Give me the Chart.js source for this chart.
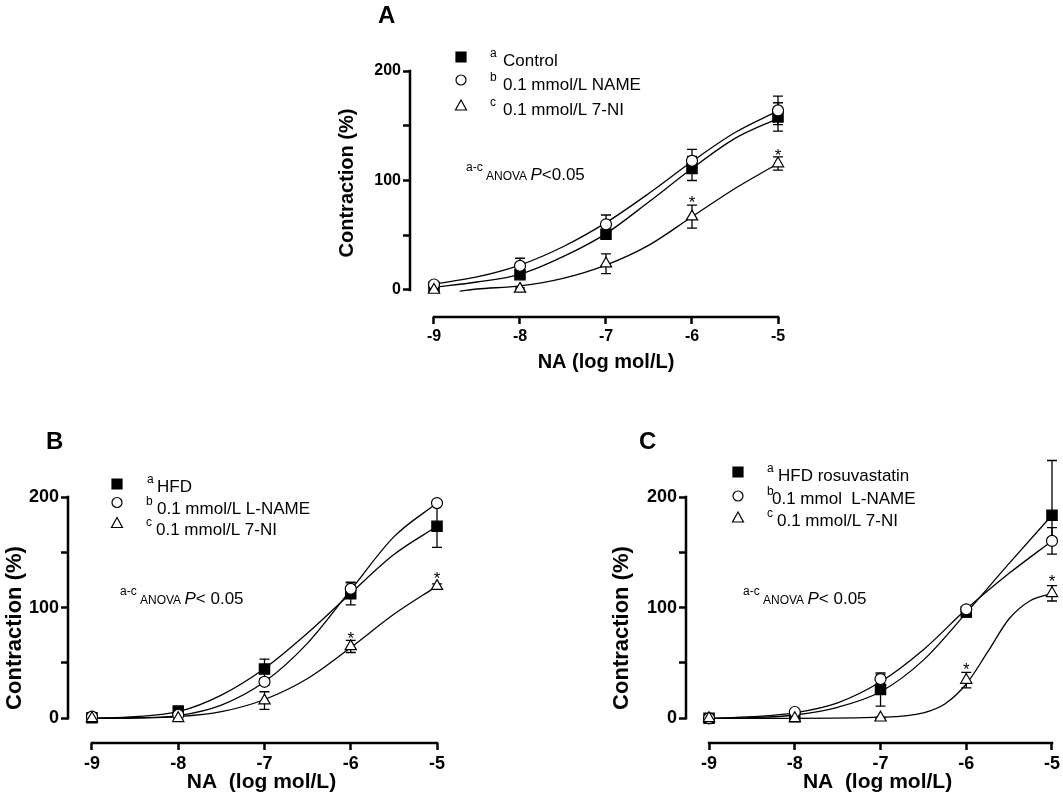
<!DOCTYPE html>
<html>
<head>
<meta charset="utf-8">
<script src="https://cdn.jsdelivr.net/npm/chart.js"></script>
<style>
  body { margin: 0; background: #fff; }
  #wrap { position: relative; width: 1063px; height: 801px; }
  canvas { position: absolute; }
</style>
</head>
<body>
<div id="wrap">
  <canvas id="chartA" width="470" height="380" style="left:330px; top:0px;"></canvas>
  <canvas id="chartB" width="470" height="380" style="left:0px; top:420px;"></canvas>
  <canvas id="chartC" width="463" height="380" style="left:600px; top:420px;"></canvas>
</div>
<script>
// doses (log mol/L) and tick labels
const doses = [-9, -8, -7, -6, -5];
const fitDoses = [-9, -8.5, -8, -7.5, -7, -6.5, -6, -5.5, -5];
const xTickValues = [-9, -8, -7, -6, -5];
const xTickLabels = ['-9', '-8', '-7', '-6', '-5'];
const yTickValues = [0, 50, 100, 150, 200];
const yTickLabels = ['0', '', '100', '', '200'];
const starDoses = [-6, -5];

// A - control
const aControl = [2.5, 14, 51, 111, 158];
const aControlSem = [1, 3, 4, 11, 13];
const aName = [5, 22, 60, 118, 164];
const aNameSem = [1.5, 7, 8.5, 10.5, 13];
const aNi = [0, 1, 24, 67, 115.5];
const aNiSem = [1, 1, 9, 10.5, 6];
const aControlFit = [2.4, 7.3, 14.3, 30.4, 51.5, 80.6, 111, 138.5, 156.8];
const aNameFit = [5.4, 12, 22.8, 39.5, 61.5, 88.3, 117.3, 143.8, 163.6];
const aNiFitDoses = [-8.7, -8.5, -8, -7.5, -7, -6.5, -6, -5.5, -5];
const aNiFit = [-1, 0.9, 3.7, 10.7, 22.8, 41, 66.9, 92.7, 115.5];
const aStars = [84, 127];

// B - HFD
const bHfd = [0.5, 6.5, 44.5, 112.5, 173.5];
const bHfdSem = [0.5, 1.5, 9, 10, 19];
const bLname = [1.5, 3, 33, 117, 194.5];
const bLnameSem = [1, 1, 3, 6, 2];
const bNi = [0, 0, 16, 65, 119.5];
const bNiSem = [0.5, 1, 8, 5.5, 2];
const bHfdFit = [0, 1.5, 6, 21, 45, 77, 113, 148, 173.5];
const bLnameFit = [0, 0.5, 2.5, 12, 33, 68, 116, 164, 194.5];
const bNiFit = [0, 0.3, 1.5, 6, 17, 36, 64, 94, 119.5];
const bStars = [76, 130.5];

// C - HFD rosuvastatin
const cHfd = [0, 1.5, 26, 96, 183.5];
const cHfdSemUp = [0.5, 1, 15, 3, 49.5];
const cHfdSemDown = [0.5, 1, 15, 4.5, 22];
const cLname = [0, 5.7, 35.5, 98.5, 160.3];
const cLnameSem = [0.5, 1, 4.5, 2, 12];
const cNi = [0, 0, 0.5, 34.6, 113];
const cNiSem = [0.5, 0.5, 0.5, 7, 7];
const cHfdFit = [0, 0.6, 3, 10, 24, 52.6, 95.3, 140, 183.5];
const cLnameFit = [0, 1.5, 5, 14, 33, 62, 98.5, 131, 160.3];
const cNiFitDoses = [-9, -8, -7, -6.5, -6.25, -6, -5.75, -5.5, -5.25, -5];
const cNiFit = [0, 0, 1, 5, 13, 31, 60, 90, 106.5, 113];
const cStars = [48, 128];

const FONT = '"Liberation Sans", Arial, Helvetica, sans-serif';
Chart.defaults.font.family = FONT;

function drawMarker(ctx, style, x, y) {
    ctx.save();
    ctx.lineWidth = 1.2;
    ctx.strokeStyle = '#000';
    ctx.fillStyle = style === 'rect' ? '#000' : '#fff';
    ctx.beginPath();
    if (style === 'rect') ctx.rect(x - 5, y - 5, 10, 10);
    else if (style === 'circle') ctx.arc(x, y, 5, 0, Math.PI * 2);
    else { ctx.moveTo(x, y - 6); ctx.lineTo(x + 5.5, y + 4); ctx.lineTo(x - 5.5, y + 4); ctx.closePath(); }
    ctx.fill();
    ctx.stroke();
    ctx.restore();
}

// draw a row of text pieces one after the other
function textRun(ctx, x, y, parts) {
    parts.forEach(p => {
        ctx.font = p.font;
        ctx.fillText(p.t, x, y + (p.dy || 0));
        x += ctx.measureText(p.t).width;
    });
}

const SUP = '12px ' + FONT;
const TXT = '17px ' + FONT;

function makePanel(canvasId, p) {
    const datasets = [];
    p.series.forEach(s => datasets.push({
        type: 'line',
        data: s.fitX.map((x, i) => ({ x: x, y: s.fit[i] })),
        borderColor: '#000', borderWidth: 1.3, pointRadius: 0, pointHoverRadius: 0,
        cubicInterpolationMode: 'monotone', fill: false, order: 5, clip: false
    }));
    p.series.forEach((s, k) => datasets.push({
        type: 'line', showLine: false,
        data: doses.map((x, i) => ({ x: x, y: s.y[i] })),
        pointStyle: s.style, pointRadius: s.radius, pointHoverRadius: s.radius,
        pointBackgroundColor: s.style === 'rect' ? '#000' : '#fff',
        pointBorderColor: '#000', pointBorderWidth: 1.2,
        order: 3 - k, clip: false,
        errUp: s.semUp, errDown: s.semDown || s.semUp
    }));

    const decor = {
        id: 'decor',
        beforeDatasetsDraw(chart) {
            const ctx = chart.ctx, xs = chart.scales.x, ys = chart.scales.y;
            ctx.save();
            ctx.strokeStyle = '#000';
            ctx.lineWidth = 1.3;
            chart.data.datasets.forEach(ds => {
                if (!ds.errUp) return;
                ds.data.forEach((pt, i) => {
                    const px = xs.getPixelForValue(pt.x);
                    const top = ys.getPixelForValue(pt.y + ds.errUp[i]);
                    const bot = ys.getPixelForValue(pt.y - ds.errDown[i]);
                    ctx.beginPath();
                    ctx.moveTo(px, top); ctx.lineTo(px, bot);
                    ctx.moveTo(px - 5, top); ctx.lineTo(px + 5, top);
                    ctx.moveTo(px - 5, bot); ctx.lineTo(px + 5, bot);
                    ctx.stroke();
                });
            });
            ctx.restore();
        },
        afterDraw(chart) {
            const ctx = chart.ctx, xs = chart.scales.x, ys = chart.scales.y, ca = chart.chartArea;
            ctx.save();
            // offset axis lines
            ctx.strokeStyle = '#000';
            ctx.lineWidth = 2.5;
            ctx.beginPath();
            ctx.moveTo(ca.left, ys.getPixelForValue(0) + 1.25);
            ctx.lineTo(ca.left, ys.getPixelForValue(200) - 1.25);
            ctx.moveTo(xs.getPixelForValue(-9) - 1.25, ca.bottom);
            ctx.lineTo(xs.getPixelForValue(-5) + 1.25, ca.bottom);
            ctx.stroke();

            ctx.fillStyle = '#000';
            // axis titles, centred on the data range
            ctx.textAlign = 'center';
            ctx.textBaseline = 'middle';
            ctx.font = 'bold ' + p.xTitleSize + 'px ' + FONT;
            ctx.fillText(p.xTitle, (xs.getPixelForValue(-9) + xs.getPixelForValue(-5)) / 2 + p.xTitleShift, p.xTitleY);
            ctx.save();
            ctx.translate(p.yTitleX, p.yTitleY);
            ctx.rotate(-Math.PI / 2);
            ctx.font = 'bold ' + p.yTitleSize + 'px ' + FONT;
            ctx.fillText('Contraction (%)', 0, 0);
            ctx.restore();

            ctx.textBaseline = 'alphabetic';
            ctx.font = TXT;
            starDoses.forEach((d, i) => {
                ctx.fillText('*', xs.getPixelForValue(d), ys.getPixelForValue(p.stars[i]) + 10);
            });

            ctx.textAlign = 'left';
            p.legend.forEach((row, i) => {
                drawMarker(ctx, p.series[i].style, p.legendX, p.legendY[i]);
                textRun(ctx, p.supX[i], p.textY[i], [{ t: row.sup, font: SUP, dy: -9 }]);
                textRun(ctx, p.textX[i], p.textY[i], [{ t: row.text, font: TXT }]);
            });

            textRun(ctx, p.anovaX, p.anovaY, [
                { t: 'a-c', font: SUP, dy: -9 },
                { t: ' ', font: SUP },
                { t: 'ANOVA', font: SUP },
                { t: ' ', font: SUP },
                { t: 'P', font: 'italic 17px ' + FONT },
                { t: p.pText, font: TXT }
            ]);

            ctx.font = 'bold 24px ' + FONT;
            ctx.fillText(p.letter, p.letterX, p.letterY);
            ctx.restore();
        }
    };

    return new Chart(document.getElementById(canvasId), {
        type: 'line',
        data: { datasets: datasets },
        options: {
            responsive: false,
            animation: false,
            events: [],
            layout: { padding: p.padding },
            plugins: { legend: { display: false }, tooltip: { enabled: false } },
            scales: {
                x: {
                    type: 'linear', min: p.xMin, max: -5,
                    afterBuildTicks: sc => { sc.ticks = xTickValues.map(v => ({ value: v })); },
                    afterFit: sc => { sc.height = p.xHeight; },
                    border: { display: false },
                    grid: { drawOnChartArea: false, drawTicks: true, tickLength: 7, tickWidth: 2.5, tickColor: '#000' },
                    ticks: {
                        color: '#000', font: { family: FONT, size: p.tickSize, weight: 'bold' }, padding: 3,
                        maxRotation: 0, autoSkip: false, callback: (v, i) => xTickLabels[i]
                    },
                    title: { display: false }
                },
                y: {
                    type: 'linear', min: p.yMin, max: 200,
                    afterBuildTicks: sc => { sc.ticks = yTickValues.map(v => ({ value: v })); },
                    afterFit: sc => { sc.width = p.yWidth; },
                    border: { display: false },
                    grid: { drawOnChartArea: false, drawTicks: true, tickLength: 7, tickWidth: 2.5, tickColor: '#000' },
                    ticks: {
                        color: '#000', font: { family: FONT, size: p.tickSize, weight: 'bold' }, padding: 2,
                        autoSkip: false, callback: (v, i) => yTickLabels[i]
                    },
                    title: { display: false }
                }
            }
        },
        plugins: [decor]
    });
}

makePanel('chartA', {
    letter: 'A', letterX: 48, letterY: 23,
    padding: { left: 0, top: 71, right: 22, bottom: 0 },
    xMin: -9.279, yMin: -24.66, xHeight: 63, yWidth: 80, tickSize: 16,
    xTitle: 'NA (log mol/L)', xTitleSize: 20, xTitleShift: 0, xTitleY: 362,
    yTitleX: 17, yTitleY: 183, yTitleSize: 20,
    series: [
        { style: 'rect', radius: 7.3, y: aControl, semUp: aControlSem, fitX: fitDoses, fit: aControlFit },
        { style: 'circle', radius: 5.5, y: aName, semUp: aNameSem, fitX: fitDoses, fit: aNameFit },
        { style: 'triangle', radius: 6.5, y: aNi, semUp: aNiSem, fitX: aNiFitDoses, fit: aNiFit }
    ],
    stars: aStars,
    legend: [
        { sup: 'a', text: 'Control' },
        { sup: 'b', text: '0.1 mmol/L NAME' },
        { sup: 'c', text: '0.1 mmol/L 7-NI' }
    ],
    legendX: 131, legendY: [57, 80, 106], textY: [66, 89.5, 115],
    supX: [160, 160, 160], textX: [173, 173, 173],
    anovaX: 136, anovaY: 180, pText: '<0.05'
});

makePanel('chartB', {
    letter: 'B', letterX: 46, letterY: 29,
    padding: { left: 0, top: 77, right: 33, bottom: 0 },
    xMin: -9.278, yMin: -22.3, xHeight: 57, yWidth: 68, tickSize: 18,
    xTitle: 'NA  (log mol/L)', xTitleSize: 21, xTitleShift: -3, xTitleY: 362,
    yTitleX: 15, yTitleY: 208, yTitleSize: 22,
    series: [
        { style: 'rect', radius: 7.3, y: bHfd, semUp: bHfdSem, fitX: fitDoses, fit: bHfdFit },
        { style: 'circle', radius: 5.5, y: bLname, semUp: bLnameSem, fitX: fitDoses, fit: bLnameFit },
        { style: 'triangle', radius: 6.5, y: bNi, semUp: bNiSem, fitX: fitDoses, fit: bNiFit }
    ],
    stars: bStars,
    legend: [
        { sup: 'a', text: 'HFD' },
        { sup: 'b', text: '0.1 mmol/L L-NAME' },
        { sup: 'c', text: '0.1 mmol/L 7-NI' }
    ],
    legendX: 117, legendY: [64, 82.5, 103.5], textY: [71.5, 93.5, 115],
    supX: [147, 146, 146], textX: [157, 157, 156],
    anovaX: 120, anovaY: 184, pText: '< 0.05'
});

makePanel('chartC', {
    letter: 'C', letterX: 39, letterY: 29,
    padding: { left: 0, top: 77, right: 9, bottom: 0 },
    xMin: -9.269, yMin: -22.3, xHeight: 57, yWidth: 86, tickSize: 18,
    xTitle: 'NA  (log mol/L)', xTitleSize: 21, xTitleShift: -3, xTitleY: 362,
    yTitleX: 22, yTitleY: 208, yTitleSize: 22,
    series: [
        { style: 'rect', radius: 7.3, y: cHfd, semUp: cHfdSemUp, semDown: cHfdSemDown, fitX: fitDoses, fit: cHfdFit },
        { style: 'circle', radius: 5.5, y: cLname, semUp: cLnameSem, fitX: fitDoses, fit: cLnameFit },
        { style: 'triangle', radius: 6.5, y: cNi, semUp: cNiSem, fitX: cNiFitDoses, fit: cNiFit }
    ],
    stars: cStars,
    legend: [
        { sup: 'a', text: 'HFD rosuvastatin' },
        { sup: 'b', text: '0.1 mmol  L-NAME' },
        { sup: 'c', text: '0.1 mmol/L 7-NI' }
    ],
    legendX: 138, legendY: [52, 76, 98], textY: [60.5, 84, 106],
    supX: [167, 167, 167], textX: [178, 172, 177],
    anovaX: 143, anovaY: 184, pText: '< 0.05'
});
</script>
</body>
</html>
